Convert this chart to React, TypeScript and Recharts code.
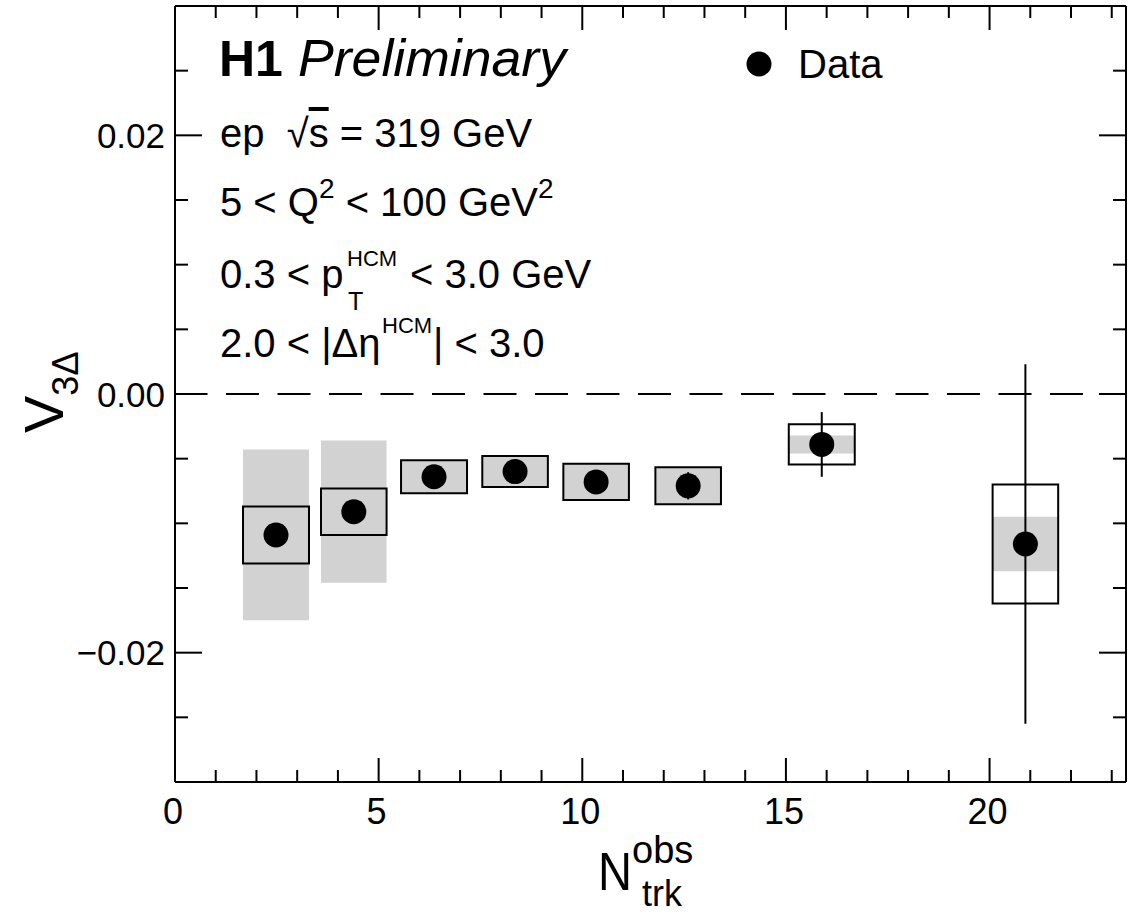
import React from 'react';
import {
  ComposedChart,
  XAxis,
  YAxis,
  Scatter,
  ErrorBar,
  ReferenceArea,
  ReferenceLine,
} from 'recharts';

// H1 Preliminary: v3Δ vs N_trk^obs
const nTrkObs = [2.48, 4.39, 6.36, 8.35, 10.34, 12.6, 15.88, 20.88];
const v3Delta = [-0.0109, -0.0091, -0.0064, -0.006, -0.0068, -0.0071, -0.0039, -0.0116];
const statErr = [0.0007, 0.0007, 0.0006, 0.0006, 0.0007, 0.00105, 0.0025, 0.0139];
const shadedErr = [0.0066, 0.0055, 0.00127, 0.0012, 0.0014, 0.00143, 0.0007, 0.0021];
const boxErr = [0.0022, 0.0018, 0.00127, 0.0012, 0.0014, 0.00143, 0.00156, 0.0046];
const binHalfWidth = [0.81, 0.805, 0.81, 0.805, 0.805, 0.805, 0.81, 0.805];

const xDomain = [0, 23.35];
const yDomain = [-0.03, 0.03];
const xTicks = [0, 1, 2, 3, 4, 5, 6, 7, 8, 9, 10, 11, 12, 13, 14, 15, 16, 17, 18, 19, 20, 21, 22, 23];
const xMajor = [0, 5, 10, 15, 20];
const yTicks = [-0.025, -0.02, -0.015, -0.01, -0.005, 0, 0.005, 0.01, 0.015, 0.02, 0.025];
const yMajor = [-0.02, 0, 0.02];

const FONT = '"Liberation Sans", Arial, Helvetica, sans-serif';
const GREY = '#d2d2d2';

const points = nTrkObs.map((x, i) => ({ x, y: v3Delta[i], stat: statErr[i] }));

const isMajorX = (v: number) => xMajor.includes(v);
const isMajorY = (v: number) => yMajor.some((m) => Math.abs(m - v) < 1e-9);
const fmtY = (v: number) => (Math.abs(v) < 1e-9 ? '0.00' : (v < 0 ? '\u22120' : '0') + Math.abs(v).toFixed(2).slice(1));

const BottomTick = (props: any) => {
  const { x, y, payload } = props;
  const major = isMajorX(payload.value);
  return (
    <g>
      <line x1={x} x2={x} y1={y} y2={y - (major ? 24 : 12)} stroke="#000" strokeWidth={2} />
      {major && (
        <text x={x - 2} y={y + 42} textAnchor="middle" fontSize={36} fontFamily={FONT} fill="#000">
          {payload.value}
        </text>
      )}
    </g>
  );
};

const TopTick = (props: any) => {
  const { x, y, payload } = props;
  const major = isMajorX(payload.value);
  return <line x1={x} x2={x} y1={y} y2={y + (major ? 24 : 12)} stroke="#000" strokeWidth={2} />;
};

const LeftTick = (props: any) => {
  const { x, y, payload } = props;
  const major = isMajorY(payload.value);
  return (
    <g>
      <line x1={x} x2={x + (major ? 27 : 13)} y1={y} y2={y} stroke="#000" strokeWidth={2} />
      {major && (
        <text x={x - 10} y={y} textAnchor="end" dominantBaseline="central" fontSize={35} fontFamily={FONT} fill="#000">
          {fmtY(payload.value)}
        </text>
      )}
    </g>
  );
};

const RightTick = (props: any) => {
  const { x, y, payload } = props;
  const major = isMajorY(payload.value);
  return <line x1={x} x2={x - (major ? 27 : 13)} y1={y} y2={y} stroke="#000" strokeWidth={2} />;
};

const Dot = (props: any) => {
  const { cx, cy } = props;
  return <circle cx={cx} cy={cy} r={12.5} fill="#000" />;
};

const axisLine = { stroke: '#000', strokeWidth: 2 };

export default function App() {
  return (
    <div style={{ position: 'absolute', left: 0, top: 0, width: 1140, height: 913, background: '#fff' }}>
      <ComposedChart width={1140} height={913} data={points} margin={{ top: 5, right: 13, bottom: 130, left: 174 }}>
        <XAxis
          dataKey="x"
          type="number"
          domain={xDomain}
          allowDataOverflow
          ticks={xTicks}
          interval={0}
          height={1}
          tickSize={0}
          tickMargin={0}
          tick={<BottomTick />}
          axisLine={axisLine}
        />
        <XAxis
          xAxisId="top"
          orientation="top"
          dataKey="x"
          type="number"
          domain={xDomain}
          allowDataOverflow
          ticks={xTicks}
          interval={0}
          height={1}
          tickSize={0}
          tickMargin={0}
          tick={<TopTick />}
          axisLine={axisLine}
        />
        <YAxis
          type="number"
          domain={yDomain}
          allowDataOverflow
          ticks={yTicks}
          interval={0}
          width={1}
          tickSize={0}
          tickMargin={0}
          tick={<LeftTick />}
          axisLine={axisLine}
        />
        <YAxis
          yAxisId="right"
          orientation="right"
          type="number"
          domain={yDomain}
          allowDataOverflow
          ticks={yTicks}
          interval={0}
          width={1}
          tickSize={0}
          tickMargin={0}
          tick={<RightTick />}
          axisLine={axisLine}
        />
        {nTrkObs.map((x, i) => (
          <ReferenceArea
            key={`shade-${i}`}
            x1={x - binHalfWidth[i]}
            x2={x + binHalfWidth[i]}
            y1={v3Delta[i] - shadedErr[i]}
            y2={v3Delta[i] + shadedErr[i]}
            fill={GREY}
            fillOpacity={1}
            stroke="none"
          />
        ))}
        {nTrkObs.map((x, i) => (
          <ReferenceArea
            key={`box-${i}`}
            x1={x - binHalfWidth[i]}
            x2={x + binHalfWidth[i]}
            y1={v3Delta[i] - boxErr[i]}
            y2={v3Delta[i] + boxErr[i]}
            fill="none"
            fillOpacity={0}
            stroke="#000"
            strokeWidth={2}
          />
        ))}
        <ReferenceLine y={0} stroke="#000" strokeWidth={2} strokeDasharray="33 18.5" strokeDashoffset={0.5} />
        <Scatter dataKey="y" shape={<Dot />} isAnimationActive={false}>
          <ErrorBar dataKey="stat" direction="y" width={0} stroke="#000" strokeWidth={2} isAnimationActive={false} />
        </Scatter>
      </ComposedChart>
      <svg
        width={1140}
        height={913}
        style={{ position: 'absolute', left: 0, top: 0, pointerEvents: 'none', fontFamily: FONT }}
      >
        <text x={219} y={76} fontSize={50} fontWeight="bold" fill="#000">H1</text>
        <text x={298} y={76} fontSize={52} fontStyle="italic" fill="#000" textLength={268} lengthAdjust="spacingAndGlyphs">
          Preliminary
        </text>
        <circle cx={759} cy={64} r={12.5} fill="#000" />
        <text x={798} y={78} fontSize={40} fill="#000">Data</text>

        <text x={220} y={147} fontSize={40} fill="#000" style={{ whiteSpace: 'pre' }}>
          ep  √<tspan textDecoration="overline">s</tspan> = 319 GeV
        </text>
        <text x={220} y={216} fontSize={40} fill="#000" style={{ whiteSpace: 'pre' }}>
          5 &lt; Q<tspan dy={-18} fontSize={28}>2</tspan>
          <tspan dy={18}> &lt; 100 GeV</tspan>
          <tspan dy={-18} fontSize={28}>2</tspan>
        </text>
        <text x={220} y={288} fontSize={40} fill="#000" style={{ whiteSpace: 'pre' }}>0.3 &lt; p</text>
        <text x={347} y={266} fontSize={22} fill="#000">HCM</text>
        <text x={348} y={310} fontSize={25} fill="#000">T</text>
        <text x={410} y={288} fontSize={40} fill="#000" style={{ whiteSpace: 'pre' }}>&lt; 3.0 GeV</text>
        <text x={220} y={357} fontSize={40} fill="#000" style={{ whiteSpace: 'pre' }}>2.0 &lt; |Δη</text>
        <text x={382} y={333} fontSize={22} fill="#000">HCM</text>
        <text x={433} y={357} fontSize={40} fill="#000" style={{ whiteSpace: 'pre' }}>| &lt; 3.0</text>

        <text x={598} y={890} fontSize={54} fill="#000" textLength={34} lengthAdjust="spacingAndGlyphs">N</text>
        <text x={632} y={863} fontSize={38} fill="#000">obs</text>
        <text x={642} y={906} fontSize={36} fill="#000">trk</text>

        <text transform="translate(63,433) rotate(-90)" fontSize={56} fill="#000">
          V<tspan dy={15} fontSize={36}>3Δ</tspan>
        </text>
      </svg>
    </div>
  );
}
